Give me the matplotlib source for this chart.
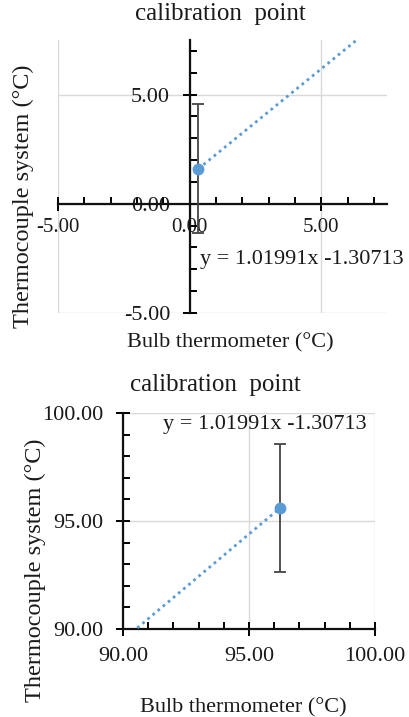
import numpy as np
import matplotlib
matplotlib.use('Agg')
import matplotlib.pyplot as plt
from matplotlib.ticker import MultipleLocator, FormatStrFormatter

plt.rcParams['font.family'] = ['Liberation Serif', 'DejaVu Serif']

# calibration points
bulb = [0.33, 96.23]        # bulb thermometer (°C)
thermo = [1.60, 95.60]      # thermocouple system (°C)
err = [2.95, 2.95]          # error bar half-width
eq_text = 'y = 1.01991x -1.30713'
title = 'calibration  point'
xlabel = 'Bulb thermometer (°C)'
ylabel = 'Thermocouple system (°C)'

blue = '#5B9BD5'
grey_grid = '#D9D9D9'
txt = '#1a1a1a'

W, H = 409, 717
fig = plt.figure(figsize=(W / 100, H / 100), dpi=100)


def px_axes(x0, x1, y0, y1):
    # pixel box (top-left origin) -> figure axes
    return fig.add_axes([x0 / W, 1 - y1 / H, (x1 - x0) / W, (y1 - y0) / H])


def style(ax, lo_x, hi_x, lo_y, hi_y):
    ax.set_xlim(lo_x, hi_x)
    ax.set_ylim(lo_y, hi_y)
    ax.xaxis.set_major_locator(MultipleLocator(5))
    ax.yaxis.set_major_locator(MultipleLocator(5))
    ax.xaxis.set_minor_locator(MultipleLocator(1))
    ax.yaxis.set_minor_locator(MultipleLocator(1))
    ax.xaxis.set_major_formatter(FormatStrFormatter('%.2f'))
    ax.yaxis.set_major_formatter(FormatStrFormatter('%.2f'))
    ax.grid(True, which='major', color=grey_grid, linewidth=1)
    ax.set_axisbelow(True)
    ax.tick_params(which='major', direction='inout', length=10, width=1.4,
                   labelsize=16, labelcolor=txt)
    ax.tick_params(axis='x', which='major', pad=5)
    ax.tick_params(axis='y', which='major', pad=9)
    ax.tick_params(which='minor', direction='in', length=5, width=1.4)
    for s in ('top', 'right'):
        ax.spines[s].set_visible(False)
    for s in ('left', 'bottom'):
        ax.spines[s].set_linewidth(1.6)
        ax.spines[s].set_color('#111111')


def draw(ax):
    ax.plot(bulb, thermo, linestyle=(0, (1, 1.4)), color=blue, linewidth=2, zorder=3)
    ax.errorbar(bulb, thermo, yerr=err, fmt='none', ecolor='#444444',
                elinewidth=1.3, capsize=4, capthick=1.3, zorder=4)
    ax.plot(bulb, thermo, 'o', color=blue, markersize=7.5, zorder=5)


# ---- top chart: ice point ----
ax1 = px_axes(58, 387, 40, 313)
style(ax1, -5, 7.5, -5, 7.5)
ax1.spines['left'].set_position(('data', 0))
ax1.spines['bottom'].set_position(('data', 0))
ax1.tick_params(axis='x', which='major', labelsize=15)
draw(ax1)
ax1.text(0.38, -2.55, eq_text, fontsize=16, color=txt, va='center', ha='left')
fig.text(220 / W, 1 - 14 / H, title, fontsize=18, color=txt, ha='center', va='center')
fig.text(230 / W, 1 - 343 / H, xlabel, fontsize=16, color=txt, ha='center', va='center')
fig.text(23 / W, 1 - 196 / H, ylabel, fontsize=17.5, color=txt, ha='center', va='center',
         rotation=90)

# ---- bottom chart: boiling point ----
ax2 = px_axes(123, 375, 413, 629)
style(ax2, 90, 100, 90, 100)
ax2.tick_params(axis='x', which='major', pad=8)
draw(ax2)
ax2.text(91.6, 99.45, eq_text, fontsize=16, color=txt, va='center', ha='left')
fig.text(215 / W, 1 - 385 / H, title, fontsize=18, color=txt, ha='center', va='center')
fig.text(243 / W, 1 - 708 / H, xlabel, fontsize=16, color=txt, ha='center', va='center')
fig.text(35 / W, 1 - 570 / H, ylabel, fontsize=17.5, color=txt, ha='center', va='center',
         rotation=90)

fig.savefig('out.png', dpi=100)
